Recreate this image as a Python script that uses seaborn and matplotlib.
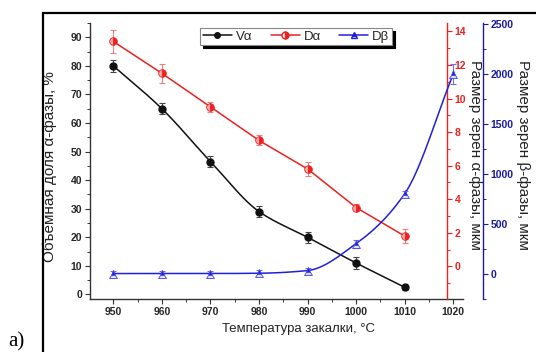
import numpy as np
import pandas as pd
import matplotlib
matplotlib.use("Agg")
import matplotlib.pyplot as plt
import seaborn as sns
from matplotlib.lines import Line2D
from matplotlib.patches import Rectangle
from matplotlib.ticker import MultipleLocator

# ---- data ----
temps = [950, 960, 970, 980, 990, 1000, 1010]
v_alpha = [80, 65, 46.5, 29, 20, 11, 2.5]
v_alpha_err = [2.0, 2.0, 2.0, 2.0, 2.0, 2.0, 0.8]
d_alpha = [13.4, 11.5, 9.5, 7.5, 5.8, 3.5, 1.8]
d_alpha_err = [0.7, 0.55, 0.3, 0.3, 0.4, 0.2, 0.4]
temps_beta = [950, 960, 970, 980, 990, 1000, 1010, 1020]
d_beta = [0, 0, 0, 3, 30, 300, 800, 2000]
d_beta_err = [30, 30, 30, 30, 30, 40, 30, 100]
x_ticks = [950, 960, 970, 980, 990, 1000, 1010, 1020]


def pchip(x, y, xs):
    x = np.asarray(x, float); y = np.asarray(y, float)
    h = np.diff(x); delta = np.diff(y) / h
    n = len(x); d = np.zeros(n)
    for k in range(1, n - 1):
        if delta[k - 1] * delta[k] > 0:
            w1 = 2 * h[k] + h[k - 1]; w2 = h[k] + 2 * h[k - 1]
            d[k] = (w1 + w2) / (w1 / delta[k - 1] + w2 / delta[k])
    d[0] = delta[0]; d[-1] = delta[-1]
    idx = np.clip(np.searchsorted(x, xs) - 1, 0, n - 2)
    t = (xs - x[idx]) / h[idx]
    h00 = 2 * t**3 - 3 * t**2 + 1; h10 = t**3 - 2 * t**2 + t
    h01 = -2 * t**3 + 3 * t**2; h11 = t**3 - t**2
    return h00 * y[idx] + h10 * h[idx] * d[idx] + h01 * y[idx + 1] + h11 * h[idx] * d[idx + 1]


sns.set_theme(style="ticks")
plt.rcParams['font.family'] = ['Liberation Sans', 'DejaVu Sans']
plt.rcParams['xtick.direction'] = 'out'
plt.rcParams['ytick.direction'] = 'out'

BLACK = '#111111'
RED = '#ee2020'
BLUE = '#2020d8'
NAVY = '#1a1aa0'

fig = plt.figure(figsize=(5.36, 3.52), dpi=100)
ax = fig.add_axes([90/536, 1-299/352, 373/536, 276/352])
ax2 = ax.twinx()
ax3 = ax.twinx()

# smooth curves
xs_a = np.linspace(temps[0], temps[-1], 200)
xs_b = np.linspace(temps_beta[0], temps_beta[-1], 200)
sns.lineplot(x=xs_a, y=pchip(temps, v_alpha, xs_a), ax=ax, color=BLACK, lw=1.1)
sns.lineplot(x=temps, y=d_alpha, ax=ax2, color=RED, lw=1.1)
sns.lineplot(x=xs_b, y=pchip(temps_beta, d_beta, xs_b), ax=ax3, color=BLUE, lw=1.1)

# error bars + markers
ax.errorbar(temps, v_alpha, yerr=v_alpha_err, fmt='none', ecolor='#444444', elinewidth=0.8, capsize=2.5, capthick=0.8)
ax.plot(temps, v_alpha, 'o', color=BLACK, ms=5, ls='none')
ax2.errorbar(temps, d_alpha, yerr=d_alpha_err, fmt='none', ecolor='#f08080', elinewidth=0.8, capsize=2.5, capthick=0.8)
ax2.plot(temps, d_alpha, 'o', ms=5.5, ls='none', fillstyle='right', markerfacecolor=RED,
         markerfacecoloralt='#f8a8a8', markeredgecolor=RED, markeredgewidth=0.6)
ax3.errorbar(temps_beta, d_beta, yerr=d_beta_err, fmt='none', ecolor='#7070f0', elinewidth=0.8, capsize=2.5, capthick=0.8)
ax3.plot(temps_beta, d_beta, '^', ms=5.5, ls='none', fillstyle='top', markerfacecolor=BLUE,
         markerfacecoloralt='#e0e0ff', markeredgecolor='#4040f0', markeredgewidth=0.6)

# axes limits
ax.set_xlim(945.2, 1022.0)
ax.set_ylim(-1.6, 95)
ax2.set_ylim(-1.95, 14.5)
ax3.set_ylim(-255, 2510)

ax.set_xticks(x_ticks)
ax.xaxis.set_minor_locator(MultipleLocator(5))
ax.yaxis.set_major_locator(MultipleLocator(10))
ax.yaxis.set_minor_locator(MultipleLocator(5))
ax2.yaxis.set_major_locator(MultipleLocator(2))
ax2.yaxis.set_minor_locator(MultipleLocator(1))
ax3.yaxis.set_major_locator(MultipleLocator(500))
ax3.yaxis.set_minor_locator(MultipleLocator(250))

# spines
for a in (ax, ax2, ax3):
    a.spines['top'].set_visible(False)
ax.spines['right'].set_visible(False)
for a in (ax2, ax3):
    a.spines['left'].set_visible(False)
    a.spines['bottom'].set_visible(False)
ax.spines['left'].set_color('#333333')
ax.spines['bottom'].set_color('#333333')
ax.spines['left'].set_linewidth(1.0)
ax.spines['bottom'].set_linewidth(1.0)
ax2.spines['right'].set_position(('axes', (447-90)/373))
ax2.spines['right'].set_color(RED)
ax2.spines['right'].set_linewidth(1.0)
ax3.spines['right'].set_position(('axes', (483-90)/373))
ax3.spines['right'].set_color(NAVY)
ax3.spines['right'].set_linewidth(1.0)

ax.tick_params(axis='both', which='major', length=3.5, width=0.8, color='#333333', pad=2, labelsize=7.5)
ax.tick_params(axis='both', which='minor', length=2, width=0.7, color='#333333')
ax2.tick_params(axis='y', which='major', length=3.5, width=0.8, color=RED, labelcolor=RED, pad=2, labelsize=7.5)
ax2.tick_params(axis='y', which='minor', length=2, width=0.7, color=RED)
ax3.tick_params(axis='y', which='major', length=3.5, width=0.8, color=NAVY, labelcolor=NAVY, pad=2, labelsize=7.5)
ax3.tick_params(axis='y', which='minor', length=2, width=0.7, color=NAVY)
for a in (ax, ax2, ax3):
    for lbl in a.get_xticklabels() + a.get_yticklabels():
        lbl.set_fontweight('bold')

ax.set_xlabel('Температура закалки, °С', fontsize=9.5, color='#222222', va='center')
ax.xaxis.set_label_coords((298-90)/373, (299-329)/276)
ax.set_ylabel('Объемная доля α-фазы, %', fontsize=11, color='#222222', va='center', ha='center')
ax.yaxis.set_label_coords((50-90)/373, (299-167)/276)
ax2.set_ylabel('Размер зерен α-фазы, мкм', fontsize=11, color='#222222', rotation=270, va='center', ha='center')
ax2.yaxis.set_label_coords((475-90)/373, (299-155)/276)
ax3.set_ylabel('Размер зерен β-фазы, мкм', fontsize=11, color='#222222', rotation=270, va='center', ha='center')
ax3.yaxis.set_label_coords((523-90)/373, (299-155)/276)

# legend
handles = [
    Line2D([], [], color=BLACK, marker='o', ms=4, lw=1.1),
    Line2D([], [], color=RED, marker='o', ms=5, lw=1.1, fillstyle='right', markerfacecoloralt='white'),
    Line2D([], [], color=BLUE, marker='^', ms=5, lw=1.1, fillstyle='top', markerfacecoloralt='white'),
]
leg = ax3.legend(handles, ['Vα', 'Dα', 'Dβ'], ncol=3, loc='center',
                 bbox_to_anchor=((296-90)/373, (299-36.5)/276), fontsize=9.5,
                 frameon=True, fancybox=False, framealpha=1, edgecolor='#888888',
                 handlelength=2.2, handletextpad=0.3, columnspacing=1.4, borderpad=0.2,
                 shadow={'facecolor': 'black', 'edgecolor': 'black', 'alpha': 1})
leg.get_frame().set_linewidth(0.8)

# outer frame and panel label
fig.patches.append(Rectangle((43/536, -0.05), 1.0, 1 - 13/352 + 0.05, transform=fig.transFigure,
                             fill=False, edgecolor='black', linewidth=1.6))
fig.text(8/536, 1/352, 'a)', fontsize=15, family='Liberation Serif', color='black', ha='left', va='bottom')

fig.savefig('out.png', dpi=100)
